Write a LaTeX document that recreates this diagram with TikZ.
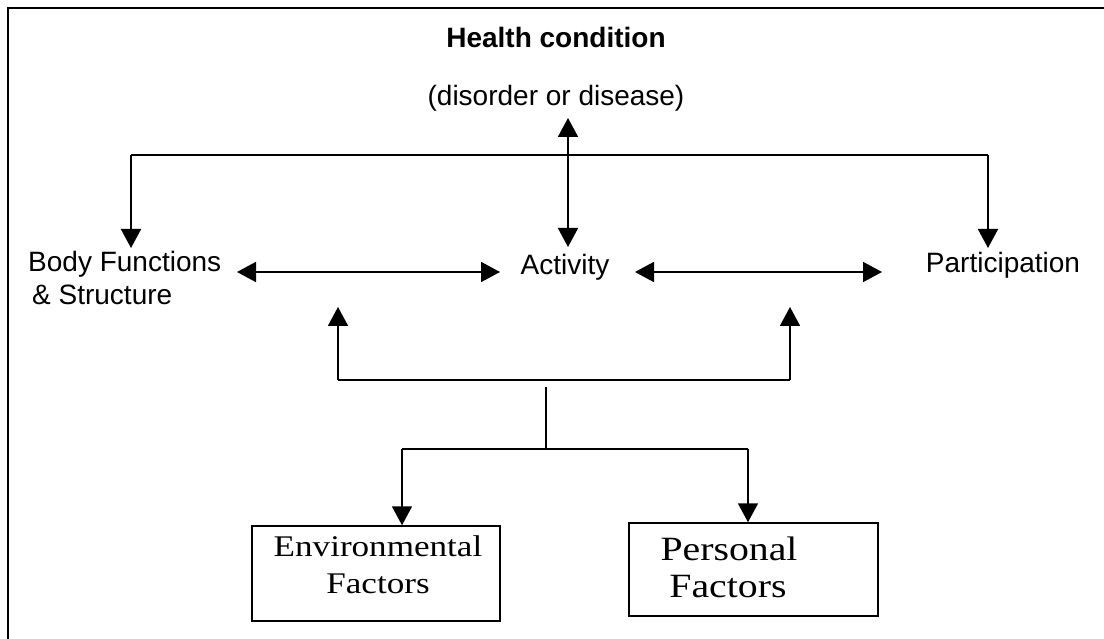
\documentclass[tikz,border=0pt]{standalone}
\usepackage{fontspec}
\setmainfont{Liberation Sans}
\newfontfamily\serifbox[FakeStretch=1.17]{Liberation Serif}
\usetikzlibrary{arrows.meta}
\begin{document}
\begin{tikzpicture}[x=1pt,y=-1pt,
  lbl/.style={anchor=base,inner sep=0pt,font=\fontsize{28}{33}\selectfont},
  conn/.style={line width=1.8pt},
  arr/.style={conn,-{Triangle[width=20pt,length=19pt]}},
  darr/.style={conn,{Triangle[width=20pt,length=19pt]}-{Triangle[width=20pt,length=19pt]}},
  factorbox/.style={draw,line width=1.5pt,inner sep=0pt},
  envtxt/.style={anchor=base,inner sep=0pt,font=\serifbox\fontsize{30}{36}\selectfont},
  perstxt/.style={anchor=base,inner sep=0pt,font=\serifbox\fontsize{34}{37}\selectfont}]
\useasboundingbox (0,0) rectangle (1104,639);
% outer frame (only top and left visible)
\coordinate (fTL) at (8,8);
\coordinate (fTR) at (1104,8);
\coordinate (fBL) at (8,639);
\draw[line width=2.8pt] (fTR) -- (fTL) -- (fBL);
% labels
\node[lbl,font=\fontsize{28}{33}\selectfont\bfseries] (hc) at (556,48) {Health condition};
\node[lbl] (dis) at (556,106) {(disorder or disease)};
\node[lbl] (act) at (565,275) {Activity};
\node[lbl] (par) at (1003,273) {Participation};
\node[lbl,anchor=base west] (body) at (28,272) {Body Functions};
\node[lbl,anchor=base west] (struct) at (32,305) {\& Structure};
% boxes
\node[factorbox,minimum width=248pt,minimum height=95pt] (env) at (376,573.5) {};
\node[factorbox,minimum width=249pt,minimum height=93pt] (pers) at (753.5,569.5) {};
\node[envtxt] (envA) at (378,556) {Environmental};
\node[envtxt] (envB) at (378,593) {Factors};
\node[perstxt] (persA) at (729,560) {Personal};
\node[perstxt] (persB) at (728,597) {Factors};
% coordinates
\coordinate (hTop) at (568,118);
\coordinate (hBot) at (568,247);
\coordinate (tL) at (131,155);
\coordinate (tR) at (988,155);
\coordinate (tLtip) at (131,248);
\coordinate (tRtip) at (988,248);
\coordinate (bfR) at (237,272);
\coordinate (actL) at (500,272);
\coordinate (actR) at (635,272);
\coordinate (parL) at (882,272);
\coordinate (uL) at (338,380);
\coordinate (uR) at (790,380);
\coordinate (uLtip) at (338,307);
\coordinate (uRtip) at (790,307);
\coordinate (mTop) at (546,387);
\coordinate (mBot) at (546,449);
\coordinate (dL) at (402,449);
\coordinate (dR) at (748,449);
% connectors
\draw[darr] (hTop) -- (hBot);
\draw[conn] (tL) -- (tR);
\draw[arr] (tL) -- (tLtip);
\draw[arr] (tR) -- (tRtip);
\draw[darr] (bfR) -- (actL);
\draw[darr] (actR) -- (parL);
\draw[conn] (uL) -- (uR);
\draw[arr] (uL) -- (uLtip);
\draw[arr] (uR) -- (uRtip);
\draw[conn] (mTop) -- (mBot);
\draw[conn] (dL) -- (dR);
\draw[arr] (dL) -- (dL |- env.north);
\draw[arr] (dR) -- (dR |- pers.north);
\end{tikzpicture}
\end{document}
